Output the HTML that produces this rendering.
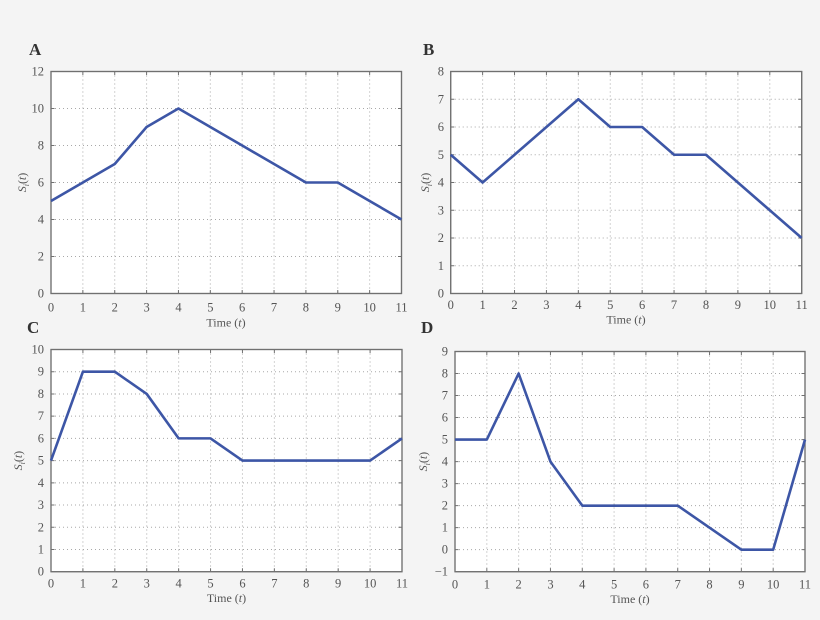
<!DOCTYPE html>
<html><head><meta charset="utf-8"><style>
html,body{margin:0;padding:0;background:#f4f4f4;}
svg{display:block;}
text{font-family:"Liberation Serif",serif;fill:#555;}
.tl{font-size:12.5px;}
.pl{font-size:17px;font-weight:bold;fill:#333;}
.ax{font-size:12px;}
.g{stroke:#a8a8a8;stroke-width:1;stroke-dasharray:1,3;fill:none;}
.f{stroke:#707070;stroke-width:1.2;fill:#fff;}
.tk{stroke:#707070;stroke-width:1;}
.d{stroke:#3d56a6;stroke-width:2.6;fill:none;stroke-linejoin:round;}
</style></head><body>
<svg width="820" height="620" viewBox="0 0 820 620" xmlns="http://www.w3.org/2000/svg">
<rect width="820" height="620" fill="#f4f4f4"/>

<!-- ===== Panel A ===== -->
<text class="pl" x="29" y="55">A</text>
<rect class="f" x="51" y="71.5" width="350.5" height="222"/>
<g class="g">
<path d="M82.86 71.5V293.5M114.73 71.5V293.5M146.59 71.5V293.5M178.45 71.5V293.5M210.32 71.5V293.5M242.18 71.5V293.5M274.05 71.5V293.5M305.91 71.5V293.5M337.77 71.5V293.5M369.64 71.5V293.5"/>
<path d="M51 256.5H401.5M51 219.5H401.5M51 182.5H401.5M51 145.5H401.5M51 108.5H401.5"/>
</g>
<g class="tk">
<path d="M82.86 293.5v-3.5M114.73 293.5v-3.5M146.59 293.5v-3.5M178.45 293.5v-3.5M210.32 293.5v-3.5M242.18 293.5v-3.5M274.05 293.5v-3.5M305.91 293.5v-3.5M337.77 293.5v-3.5M369.64 293.5v-3.5"/>
<path d="M82.86 71.5v3.5M114.73 71.5v3.5M146.59 71.5v3.5M178.45 71.5v3.5M210.32 71.5v3.5M242.18 71.5v3.5M274.05 71.5v3.5M305.91 71.5v3.5M337.77 71.5v3.5M369.64 71.5v3.5"/>
<path d="M51 256.5h3.5M51 219.5h3.5M51 182.5h3.5M51 145.5h3.5M51 108.5h3.5"/>
<path d="M401.5 256.5h-3.5M401.5 219.5h-3.5M401.5 182.5h-3.5M401.5 145.5h-3.5M401.5 108.5h-3.5"/>
</g>
<rect x="51" y="71.5" width="350.5" height="222" fill="none" stroke="#707070" stroke-width="1.2"/>
<polyline class="d" points="51,201 82.86,182.5 114.73,164 146.59,127 178.45,108.5 210.32,127 242.18,145.5 274.05,164 305.91,182.5 337.77,182.5 369.64,201 401.5,219.5"/>
<g class="tl" text-anchor="end">
<text x="44" y="297.5">0</text><text x="44" y="260.5">2</text><text x="44" y="223.5">4</text><text x="44" y="186.5">6</text><text x="44" y="149.5">8</text><text x="44" y="112.5">10</text><text x="44" y="75.5">12</text>
</g>
<g class="tl" text-anchor="middle">
<text x="51" y="311.5">0</text><text x="82.86" y="311.5">1</text><text x="114.73" y="311.5">2</text><text x="146.59" y="311.5">3</text><text x="178.45" y="311.5">4</text><text x="210.32" y="311.5">5</text><text x="242.18" y="311.5">6</text><text x="274.05" y="311.5">7</text><text x="305.91" y="311.5">8</text><text x="337.77" y="311.5">9</text><text x="369.64" y="311.5">10</text><text x="401.5" y="311.5">11</text>
</g>
<text class="ax" x="226" y="326.5" text-anchor="middle">Time (<tspan font-style="italic">t</tspan>)</text>
<text class="ax" transform="translate(26,182.5) rotate(-90)" text-anchor="middle"><tspan font-style="italic">S</tspan><tspan font-style="italic" font-size="8" dy="3">i</tspan><tspan dy="-3">(</tspan><tspan font-style="italic">t</tspan>)</text>

<!-- ===== Panel B ===== -->
<text class="pl" x="423" y="55">B</text>
<rect class="f" x="450.7" y="71.5" width="351" height="222"/>
<g class="g">
<path d="M482.61 71.5V293.5M514.52 71.5V293.5M546.43 71.5V293.5M578.34 71.5V293.5M610.25 71.5V293.5M642.15 71.5V293.5M674.06 71.5V293.5M705.97 71.5V293.5M737.88 71.5V293.5M769.79 71.5V293.5"/>
<path d="M450.7 265.75H801.7M450.7 238H801.7M450.7 210.25H801.7M450.7 182.5H801.7M450.7 154.75H801.7M450.7 127H801.7M450.7 99.25H801.7"/>
</g>
<g class="tk">
<path d="M482.61 293.5v-3.5M514.52 293.5v-3.5M546.43 293.5v-3.5M578.34 293.5v-3.5M610.25 293.5v-3.5M642.15 293.5v-3.5M674.06 293.5v-3.5M705.97 293.5v-3.5M737.88 293.5v-3.5M769.79 293.5v-3.5"/>
<path d="M482.61 71.5v3.5M514.52 71.5v3.5M546.43 71.5v3.5M578.34 71.5v3.5M610.25 71.5v3.5M642.15 71.5v3.5M674.06 71.5v3.5M705.97 71.5v3.5M737.88 71.5v3.5M769.79 71.5v3.5"/>
<path d="M450.7 265.75h3.5M450.7 238h3.5M450.7 210.25h3.5M450.7 182.5h3.5M450.7 154.75h3.5M450.7 127h3.5M450.7 99.25h3.5"/>
<path d="M801.7 265.75h-3.5M801.7 238h-3.5M801.7 210.25h-3.5M801.7 182.5h-3.5M801.7 154.75h-3.5M801.7 127h-3.5M801.7 99.25h-3.5"/>
</g>
<rect x="450.7" y="71.5" width="351" height="222" fill="none" stroke="#707070" stroke-width="1.2"/>
<polyline class="d" points="450.7,154.75 482.61,182.5 514.52,154.75 546.43,127 578.34,99.25 610.25,127 642.15,127 674.06,154.75 705.97,154.75 737.88,182.5 769.79,210.25 801.7,238"/>
<g class="tl" text-anchor="end">
<text x="444" y="297.5">0</text><text x="444" y="269.75">1</text><text x="444" y="242">2</text><text x="444" y="214.25">3</text><text x="444" y="186.5">4</text><text x="444" y="158.75">5</text><text x="444" y="131">6</text><text x="444" y="103.25">7</text><text x="444" y="75.5">8</text>
</g>
<g class="tl" text-anchor="middle">
<text x="450.7" y="309">0</text><text x="482.61" y="309">1</text><text x="514.52" y="309">2</text><text x="546.43" y="309">3</text><text x="578.34" y="309">4</text><text x="610.25" y="309">5</text><text x="642.15" y="309">6</text><text x="674.06" y="309">7</text><text x="705.97" y="309">8</text><text x="737.88" y="309">9</text><text x="769.79" y="309">10</text><text x="801.7" y="309">11</text>
</g>
<text class="ax" x="626" y="323.5" text-anchor="middle">Time (<tspan font-style="italic">t</tspan>)</text>
<text class="ax" transform="translate(429,182.5) rotate(-90)" text-anchor="middle"><tspan font-style="italic">S</tspan><tspan font-style="italic" font-size="8" dy="3">i</tspan><tspan dy="-3">(</tspan><tspan font-style="italic">t</tspan>)</text>

<!-- ===== Panel C ===== -->
<text class="pl" x="27" y="333">C</text>
<rect class="f" x="51" y="349.5" width="351" height="222.2"/>
<g class="g">
<path d="M82.91 349.5V571.7M114.82 349.5V571.7M146.73 349.5V571.7M178.64 349.5V571.7M210.55 349.5V571.7M242.45 349.5V571.7M274.36 349.5V571.7M306.27 349.5V571.7M338.18 349.5V571.7M370.09 349.5V571.7"/>
<path d="M51 549.48H402M51 527.26H402M51 505.04H402M51 482.82H402M51 460.6H402M51 438.38H402M51 416.16H402M51 393.94H402M51 371.72H402"/>
</g>
<g class="tk">
<path d="M82.91 571.7v-3.5M114.82 571.7v-3.5M146.73 571.7v-3.5M178.64 571.7v-3.5M210.55 571.7v-3.5M242.45 571.7v-3.5M274.36 571.7v-3.5M306.27 571.7v-3.5M338.18 571.7v-3.5M370.09 571.7v-3.5"/>
<path d="M82.91 349.5v3.5M114.82 349.5v3.5M146.73 349.5v3.5M178.64 349.5v3.5M210.55 349.5v3.5M242.45 349.5v3.5M274.36 349.5v3.5M306.27 349.5v3.5M338.18 349.5v3.5M370.09 349.5v3.5"/>
<path d="M51 549.48h3.5M51 527.26h3.5M51 505.04h3.5M51 482.82h3.5M51 460.6h3.5M51 438.38h3.5M51 416.16h3.5M51 393.94h3.5M51 371.72h3.5"/>
<path d="M402 549.48h-3.5M402 527.26h-3.5M402 505.04h-3.5M402 482.82h-3.5M402 460.6h-3.5M402 438.38h-3.5M402 416.16h-3.5M402 393.94h-3.5M402 371.72h-3.5"/>
</g>
<rect x="51" y="349.5" width="351" height="222.2" fill="none" stroke="#707070" stroke-width="1.2"/>
<polyline class="d" points="51,460.6 82.91,371.72 114.82,371.72 146.73,393.94 178.64,438.38 210.55,438.38 242.45,460.6 274.36,460.6 306.27,460.6 338.18,460.6 370.09,460.6 402,438.38"/>
<g class="tl" text-anchor="end">
<text x="44" y="575.7">0</text><text x="44" y="553.48">1</text><text x="44" y="531.26">2</text><text x="44" y="509.04">3</text><text x="44" y="486.82">4</text><text x="44" y="464.6">5</text><text x="44" y="442.38">6</text><text x="44" y="420.16">7</text><text x="44" y="397.94">8</text><text x="44" y="375.72">9</text><text x="44" y="353.5">10</text>
</g>
<g class="tl" text-anchor="middle">
<text x="51" y="587.5">0</text><text x="82.91" y="587.5">1</text><text x="114.82" y="587.5">2</text><text x="146.73" y="587.5">3</text><text x="178.64" y="587.5">4</text><text x="210.55" y="587.5">5</text><text x="242.45" y="587.5">6</text><text x="274.36" y="587.5">7</text><text x="306.27" y="587.5">8</text><text x="338.18" y="587.5">9</text><text x="370.09" y="587.5">10</text><text x="402" y="587.5">11</text>
</g>
<text class="ax" x="226.5" y="602" text-anchor="middle">Time (<tspan font-style="italic">t</tspan>)</text>
<text class="ax" transform="translate(22,460.6) rotate(-90)" text-anchor="middle"><tspan font-style="italic">S</tspan><tspan font-style="italic" font-size="8" dy="3">i</tspan><tspan dy="-3">(</tspan><tspan font-style="italic">t</tspan>)</text>

<!-- ===== Panel D ===== -->
<text class="pl" x="421" y="333">D</text>
<rect class="f" x="455" y="351.5" width="350" height="220.2"/>
<g class="g">
<path d="M486.82 351.5V571.7M518.64 351.5V571.7M550.45 351.5V571.7M582.27 351.5V571.7M614.09 351.5V571.7M645.91 351.5V571.7M677.73 351.5V571.7M709.55 351.5V571.7M741.36 351.5V571.7M773.18 351.5V571.7"/>
<path d="M455 549.68H805M455 527.66H805M455 505.64H805M455 483.62H805M455 461.6H805M455 439.58H805M455 417.56H805M455 395.54H805M455 373.52H805"/>
</g>
<g class="tk">
<path d="M486.82 571.7v-3.5M518.64 571.7v-3.5M550.45 571.7v-3.5M582.27 571.7v-3.5M614.09 571.7v-3.5M645.91 571.7v-3.5M677.73 571.7v-3.5M709.55 571.7v-3.5M741.36 571.7v-3.5M773.18 571.7v-3.5"/>
<path d="M486.82 351.5v3.5M518.64 351.5v3.5M550.45 351.5v3.5M582.27 351.5v3.5M614.09 351.5v3.5M645.91 351.5v3.5M677.73 351.5v3.5M709.55 351.5v3.5M741.36 351.5v3.5M773.18 351.5v3.5"/>
<path d="M455 549.68h3.5M455 527.66h3.5M455 505.64h3.5M455 483.62h3.5M455 461.6h3.5M455 439.58h3.5M455 417.56h3.5M455 395.54h3.5M455 373.52h3.5"/>
<path d="M805 549.68h-3.5M805 527.66h-3.5M805 505.64h-3.5M805 483.62h-3.5M805 461.6h-3.5M805 439.58h-3.5M805 417.56h-3.5M805 395.54h-3.5M805 373.52h-3.5"/>
</g>
<rect x="455" y="351.5" width="350" height="220.2" fill="none" stroke="#707070" stroke-width="1.2"/>
<polyline class="d" points="455,439.58 486.82,439.58 518.64,373.52 550.45,461.6 582.27,505.64 614.09,505.64 645.91,505.64 677.73,505.64 709.55,527.66 741.36,549.68 773.18,549.68 805,439.58"/>
<g class="tl" text-anchor="end">
<text x="448" y="575.7">−1</text><text x="448" y="553.68">0</text><text x="448" y="531.66">1</text><text x="448" y="509.64">2</text><text x="448" y="487.62">3</text><text x="448" y="465.6">4</text><text x="448" y="443.58">5</text><text x="448" y="421.56">6</text><text x="448" y="399.54">7</text><text x="448" y="377.52">8</text><text x="448" y="355.5">9</text>
</g>
<g class="tl" text-anchor="middle">
<text x="455" y="588.5">0</text><text x="486.82" y="588.5">1</text><text x="518.64" y="588.5">2</text><text x="550.45" y="588.5">3</text><text x="582.27" y="588.5">4</text><text x="614.09" y="588.5">5</text><text x="645.91" y="588.5">6</text><text x="677.73" y="588.5">7</text><text x="709.55" y="588.5">8</text><text x="741.36" y="588.5">9</text><text x="773.18" y="588.5">10</text><text x="805" y="588.5">11</text>
</g>
<text class="ax" x="630" y="603" text-anchor="middle">Time (<tspan font-style="italic">t</tspan>)</text>
<text class="ax" transform="translate(427,461.6) rotate(-90)" text-anchor="middle"><tspan font-style="italic">S</tspan><tspan font-style="italic" font-size="8" dy="3">i</tspan><tspan dy="-3">(</tspan><tspan font-style="italic">t</tspan>)</text>
</svg>
</body></html>
